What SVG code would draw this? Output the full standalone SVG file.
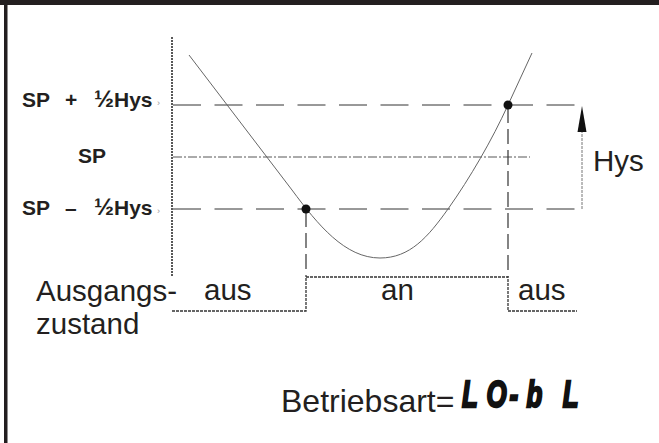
<svg xmlns="http://www.w3.org/2000/svg" width="659" height="443" viewBox="0 0 659 443">
<style>
  .lbl { font-family: "Liberation Sans", Arial, sans-serif; fill: #231f20; }
  .big { font-size: 29.5px; }
  .bold { font-weight: bold; font-size: 21px; }
  .half { font-size: 24px; }
  .mark { font-family: "Liberation Sans", Arial, sans-serif; font-size: 9px; fill: #999; }
  .axis { stroke: #222; stroke-width: 1.5; stroke-dasharray: 2 1; fill: none; }
  .dash { stroke: #333; stroke-width: 1; stroke-dasharray: 28 13.5; fill: none; }
  .thin { stroke: #444; stroke-width: 0.9; stroke-dasharray: 9 2 2 2; fill: none; }
  .vdash { stroke: #333; stroke-width: 1.2; stroke-dasharray: 15 6; fill: none; }
  .out { stroke: #333; stroke-width: 1.3; stroke-dasharray: 3 1; fill: none; }
  .curve { stroke: #666; stroke-width: 1; fill: none; }
  .hysline { stroke: #777; stroke-width: 1; stroke-dasharray: 3 1; fill: none; }
  .seg { font-family: "Liberation Sans", Arial, sans-serif; font-size: 38px; font-weight: bold; font-style: italic; fill: #111; stroke: #111; stroke-width: 2.5; }
</style>
<rect width="659" height="443" fill="#fff"/>
<g id="frame">
  <rect x="0" y="0" width="659" height="5" fill="#231f20"/>
  <rect x="4" y="0" width="3.5" height="443" fill="#231f20"/>
</g>
<g id="connectors">
  <line class="axis" x1="172" y1="37" x2="172" y2="276"/>
  <line class="dash" x1="173" y1="105" x2="578" y2="105"/>
  <line class="thin" x1="173" y1="157" x2="530" y2="157"/>
  <line class="dash" x1="173" y1="209" x2="578" y2="209"/>
  <path class="curve" d="M189,55 L292,190 C318,225 345,258 380,258 C410,258 428,237 448,209 C470,178 492,140 508,105 L532,53"/>
  <line class="vdash" x1="306" y1="212" x2="306" y2="277"/>
  <line class="vdash" x1="508" y1="108" x2="508" y2="277"/>
  <path class="out" d="M172,311 H306 V277 H508 V311 H577"/>
  <line class="hysline" x1="582" y1="209" x2="582" y2="130"/>
  <polygon points="582,106 586.5,132 577.5,132" fill="#111"/>
</g>
<g id="dots">
  <circle cx="306" cy="209" r="4.5" fill="#111"/>
  <circle cx="508" cy="105" r="4.5" fill="#111"/>
</g>
<g id="labels-left">
  <text class="lbl bold" y="107"><tspan x="22">SP</tspan><tspan x="65">+</tspan><tspan x="94" class="half">½</tspan><tspan>Hys</tspan></text>
  <text class="lbl bold" x="78" y="163">SP</text>
  <text class="lbl bold" y="215"><tspan x="22">SP</tspan><tspan x="65">–</tspan><tspan x="94" class="half">½</tspan><tspan>Hys</tspan></text>
  <text class="mark" x="157" y="106">›</text>
  <text class="mark" x="157" y="214">›</text>
</g>
<g id="hys">
  <text class="lbl big" x="593" y="171">Hys</text>
</g>
<g id="output">
  <text class="lbl big" x="36" y="301">Ausgangs-</text>
  <text class="lbl big" x="36" y="334">zustand</text>
  <text class="lbl big" x="204" y="300">aus</text>
  <text class="lbl big" x="381" y="300">an</text>
  <text class="lbl big" x="518" y="300">aus</text>
</g>
<g id="mode">
  <text class="lbl" x="281" y="412" font-size="32">Betriebsart=</text>
  <g transform="translate(462,407) scale(0.68,0.98)">
    <text class="seg" y="0"><tspan x="0">L</tspan><tspan x="36">O</tspan><tspan x="70">-</tspan><tspan x="95">b</tspan><tspan x="148">L</tspan></text>
  </g>
</g>
</svg>
